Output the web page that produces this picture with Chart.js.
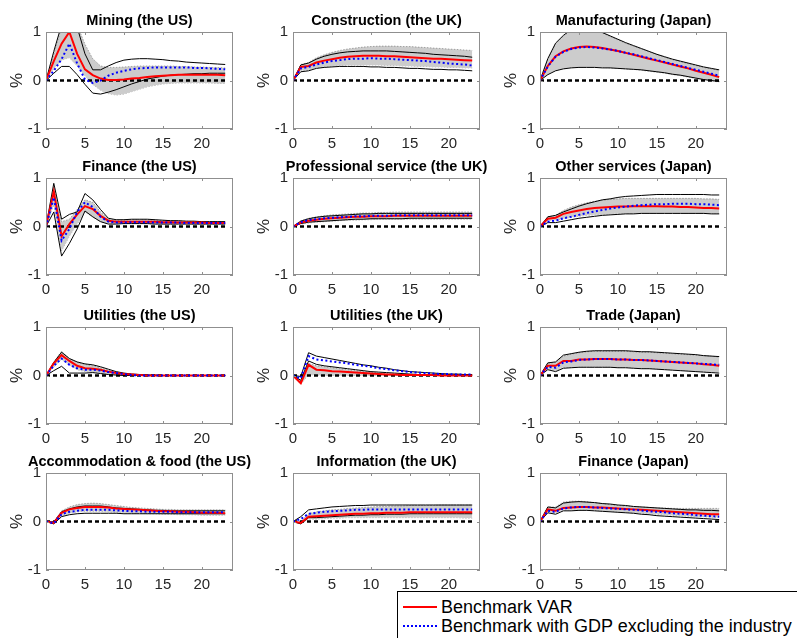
<!DOCTYPE html>
<html>
<head>
<meta charset="utf-8">
<script src="https://cdn.jsdelivr.net/npm/chart.js@4.4.1/dist/chart.umd.min.js"></script>
<style>
  html, body { margin: 0; padding: 0; background: #fff; }
  body { width: 797px; height: 638px; position: relative; overflow: hidden; font-family: "Liberation Sans", Arial, sans-serif; }
  canvas { position: absolute; }
  #legend { position: absolute; left: 397px; top: 591px; width: 420px; height: 47px; border: 1px solid #000; background: #fff; }
  #legend .ln { position: absolute; left: 5px; width: 34px; height: 0; }
  #legend .tx { position: absolute; left: 43px; font-size: 18px; line-height: 18px; color: #000; white-space: nowrap; }
</style>
</head>
<body>
<div id="legend">
  <div class="ln" style="top:14px;border-top:2px solid #ff0000"></div>
  <div class="tx" style="top:6px">Benchmark VAR</div>
  <div class="ln" style="top:33px;border-top:2px dotted #0000ff"></div>
  <div class="tx" style="top:25px">Benchmark with GDP excluding the industry</div>
</div>
<script>
// horizon (quarters) and axis ticks
const horizon = [0,1,2,3,4,5,6,7,8,9,10,11,12,13,14,15,16,17,18,19,20,21,22,23];
const xTicks = [0, 5, 10, 15, 20];
const yTicks = [-1, 0, 1];

const titles = [
  "Mining (the US)", "Construction (the UK)", "Manufacturing (Japan)",
  "Finance (the US)", "Professional service (the UK)", "Other services (Japan)",
  "Utilities (the US)", "Utilities (the UK)", "Trade (Japan)",
  "Accommodation & food (the US)", "Information (the UK)", "Finance (Japan)"
];

// Mining (the US)
const miningRed    = [0,0.4,0.76,1.0,0.55,0.23,0.11,0.04,0.01,0.01,0.02,0.04,0.05,0.07,0.09,0.1,0.11,0.12,0.12,0.12,0.12,0.12,0.12,0.11];
const miningBlue   = [0,0.2,0.44,0.76,0.35,0.02,-0.05,0.0,0.1,0.16,0.2,0.23,0.25,0.26,0.27,0.27,0.27,0.27,0.27,0.26,0.26,0.25,0.24,0.23];
const miningBandHi = [0,0.55,1.1,1.4,1.15,0.75,0.45,0.3,0.27,0.27,0.28,0.29,0.3,0.3,0.3,0.3,0.3,0.29,0.29,0.28,0.28,0.27,0.27,0.26];
const miningBandLo = [0,0.25,0.42,0.47,0.3,0.1,-0.08,-0.2,-0.27,-0.3,-0.28,-0.23,-0.18,-0.13,-0.1,-0.07,-0.06,-0.05,-0.05,-0.05,-0.05,-0.05,-0.06,-0.06];
const miningHi     = [0,0.6,1.15,1.5,1.1,0.55,0.22,0.22,0.3,0.37,0.42,0.44,0.45,0.45,0.44,0.43,0.41,0.4,0.38,0.37,0.36,0.35,0.34,0.33];
const miningLo     = [0,0.15,0.29,0.29,0.12,-0.08,-0.26,-0.28,-0.24,-0.19,-0.13,-0.07,-0.02,0.03,0.06,0.09,0.11,0.12,0.13,0.14,0.14,0.15,0.15,0.15];

// Construction (the UK)
const constrRed    = [0,0.28,0.3,0.37,0.41,0.44,0.47,0.49,0.5,0.51,0.51,0.51,0.5,0.5,0.49,0.48,0.47,0.46,0.45,0.45,0.44,0.43,0.42,0.41];
const constrBlue   = [0,0.25,0.28,0.33,0.37,0.4,0.42,0.44,0.45,0.45,0.46,0.45,0.45,0.44,0.43,0.42,0.41,0.4,0.38,0.37,0.35,0.34,0.33,0.31];
const constrBandHi = [0,0.33,0.37,0.47,0.53,0.58,0.62,0.65,0.67,0.69,0.7,0.71,0.71,0.71,0.7,0.7,0.69,0.68,0.67,0.66,0.65,0.64,0.63,0.62];
const constrBandLo = [0,0.2,0.22,0.27,0.29,0.3,0.31,0.32,0.32,0.32,0.32,0.32,0.31,0.31,0.3,0.3,0.29,0.29,0.28,0.28,0.27,0.27,0.26,0.26];
const constrHi     = [0,0.32,0.36,0.44,0.5,0.54,0.57,0.59,0.6,0.61,0.61,0.61,0.61,0.6,0.59,0.58,0.57,0.56,0.54,0.53,0.52,0.51,0.5,0.48];
const constrLo     = [0,0.18,0.2,0.25,0.27,0.28,0.29,0.29,0.29,0.29,0.28,0.28,0.27,0.27,0.26,0.25,0.25,0.24,0.23,0.23,0.22,0.22,0.21,0.2];

// Manufacturing (Japan)
const manufRed    = [0,0.3,0.5,0.6,0.66,0.69,0.7,0.69,0.67,0.64,0.61,0.57,0.53,0.49,0.45,0.41,0.37,0.33,0.29,0.25,0.2,0.16,0.12,0.07];
const manufBlue   = [0,0.29,0.49,0.59,0.65,0.68,0.69,0.68,0.66,0.64,0.61,0.57,0.54,0.5,0.46,0.42,0.38,0.34,0.3,0.26,0.22,0.18,0.14,0.1];
const manufBandHi = [0,0.44,0.75,0.92,1.03,1.08,1.08,1.04,0.98,0.91,0.84,0.77,0.71,0.65,0.59,0.53,0.48,0.43,0.39,0.35,0.31,0.27,0.24,0.21];
const manufBandLo = [0,0.13,0.21,0.25,0.27,0.28,0.28,0.28,0.27,0.26,0.25,0.24,0.23,0.21,0.19,0.17,0.15,0.12,0.1,0.07,0.04,0.02,-0.01,-0.03];
const manufHi     = [0,0.45,0.77,0.93,1.05,1.1,1.1,1.06,0.99,0.92,0.85,0.78,0.72,0.66,0.6,0.54,0.49,0.44,0.4,0.36,0.32,0.28,0.25,0.22];
const manufLo     = [0,0.12,0.2,0.24,0.26,0.27,0.27,0.27,0.26,0.26,0.25,0.24,0.23,0.22,0.2,0.18,0.16,0.13,0.11,0.08,0.05,0.02,0,-0.02];

// Finance (the US)
const finUSRed    = [0,0.72,-0.2,0.05,0.25,0.42,0.36,0.22,0.12,0.1,0.1,0.1,0.1,0.1,0.1,0.09,0.09,0.08,0.08,0.08,0.08,0.07,0.07,0.07];
const finUSBlue   = [0,0.6,-0.29,-0.05,0.3,0.5,0.4,0.2,0.1,0.08,0.08,0.09,0.09,0.09,0.08,0.08,0.08,0.08,0.07,0.07,0.07,0.07,0.07,0.07];
const finUSBandHi = [0,0.82,0.1,0.15,0.35,0.55,0.5,0.3,0.15,0.13,0.13,0.14,0.14,0.14,0.13,0.12,0.12,0.11,0.11,0.1,0.1,0.1,0.1,0.1];
const finUSBandLo = [0,0.45,-0.5,-0.2,0.05,0.3,0.2,0.1,0.06,0.06,0.06,0.06,0.06,0.06,0.05,0.05,0.05,0.05,0.05,0.05,0.05,0.05,0.05,0.05];
const finUSHi     = [0,0.89,0.15,0.25,0.3,0.68,0.55,0.35,0.17,0.14,0.14,0.15,0.15,0.15,0.14,0.13,0.12,0.12,0.11,0.11,0.1,0.1,0.1,0.1];
const finUSLo     = [0,0.3,-0.61,-0.35,-0.05,0.32,0.2,0.1,0.05,0.05,0.06,0.06,0.06,0.06,0.05,0.05,0.05,0.05,0.05,0.05,0.05,0.05,0.05,0.05];

// Professional service (the UK)
const profRed    = [0,0.08,0.12,0.14,0.16,0.17,0.18,0.19,0.2,0.2,0.21,0.21,0.21,0.22,0.22,0.22,0.22,0.22,0.22,0.22,0.22,0.22,0.22,0.22];
const profBlue   = [0,0.09,0.13,0.15,0.17,0.18,0.19,0.2,0.21,0.21,0.22,0.22,0.22,0.23,0.23,0.23,0.23,0.23,0.23,0.23,0.23,0.23,0.23,0.23];
const profBandHi = [0,0.12,0.17,0.2,0.22,0.24,0.25,0.26,0.27,0.28,0.28,0.29,0.29,0.3,0.3,0.3,0.3,0.3,0.3,0.3,0.3,0.3,0.3,0.3];
const profBandLo = [0,0.05,0.07,0.09,0.1,0.11,0.12,0.13,0.13,0.14,0.14,0.15,0.15,0.15,0.15,0.15,0.15,0.15,0.15,0.15,0.15,0.15,0.15,0.15];
const profHi     = [0,0.11,0.16,0.19,0.21,0.22,0.23,0.24,0.25,0.26,0.26,0.27,0.27,0.27,0.27,0.27,0.27,0.27,0.27,0.27,0.27,0.27,0.27,0.27];
const profLo     = [0,0.06,0.09,0.1,0.11,0.12,0.13,0.14,0.15,0.15,0.16,0.16,0.16,0.16,0.16,0.17,0.17,0.17,0.17,0.17,0.17,0.17,0.17,0.17];

// Other services (Japan)
const otherRed    = [0,0.16,0.18,0.26,0.3,0.33,0.36,0.38,0.39,0.4,0.41,0.41,0.42,0.42,0.42,0.42,0.41,0.41,0.4,0.4,0.39,0.38,0.38,0.37];
const otherBlue   = [0,0.1,0.12,0.17,0.2,0.24,0.28,0.31,0.34,0.37,0.39,0.41,0.43,0.44,0.45,0.46,0.46,0.47,0.47,0.47,0.46,0.46,0.45,0.44];
const otherBandHi = [0,0.2,0.23,0.33,0.4,0.45,0.49,0.52,0.54,0.56,0.57,0.58,0.58,0.58,0.58,0.58,0.58,0.58,0.58,0.58,0.58,0.57,0.57,0.56];
const otherBandLo = [0,0.13,0.13,0.16,0.19,0.21,0.23,0.24,0.25,0.26,0.27,0.27,0.27,0.28,0.28,0.28,0.28,0.28,0.28,0.28,0.27,0.27,0.27,0.27];
const otherHi     = [0,0.2,0.23,0.3,0.36,0.42,0.47,0.51,0.55,0.57,0.6,0.62,0.63,0.64,0.65,0.66,0.66,0.66,0.66,0.66,0.66,0.66,0.65,0.65];
const otherLo     = [0,0.08,0.08,0.11,0.14,0.17,0.19,0.21,0.23,0.24,0.25,0.26,0.26,0.27,0.27,0.27,0.27,0.27,0.27,0.27,0.27,0.27,0.26,0.26];

// Utilities (the US)
const utilUSRed    = [0,0.25,0.42,0.3,0.2,0.15,0.14,0.12,0.08,0.05,0.03,0.02,0.01,0,0,0,0,0,0,0,0,0,0,0];
const utilUSBlue   = [0,0.2,0.35,0.22,0.15,0.12,0.12,0.1,0.07,0.05,0.03,0.01,0,0,0,0,0,0,0,0,0,0,0,0];
const utilUSBandHi = [0,0.28,0.5,0.35,0.27,0.23,0.2,0.16,0.11,0.07,0.04,0.03,0.02,0.01,0.01,0,0,0,0,0,0,0,0,0];
const utilUSBandLo = [0,0.18,0.33,0.22,0.12,0.08,0.07,0.05,0.03,0.01,0,0,0,0,0,0,0,0,0,0,0,0,0,0];
const utilUSHi     = [0,0.27,0.48,0.35,0.28,0.24,0.22,0.18,0.13,0.08,0.05,0.03,0.02,0.01,0.01,0,0,0,0,0,0,0,0,0];
const utilUSLo     = [0,0.1,0.19,0.05,0.05,0.05,0.06,0.04,0.02,0.01,0,0,0,0,0,0,0,0,0,0,0,0,0,0];

// Utilities (the UK)
const utilUKRed    = [0,-0.16,0.22,0.12,0.11,0.09,0.08,0.07,0.06,0.05,0.04,0.03,0.02,0.02,0.01,0.01,0.01,0.01,0.01,0,0,0,0,0];
const utilUKBlue   = [0,-0.06,0.4,0.33,0.31,0.29,0.27,0.25,0.22,0.2,0.18,0.15,0.13,0.11,0.09,0.07,0.06,0.05,0.04,0.03,0.03,0.02,0.02,0.02];
const utilUKBandHi = [0,-0.12,0.25,0.2,0.18,0.16,0.14,0.12,0.1,0.08,0.07,0.05,0.04,0.03,0.03,0.02,0.02,0.01,0.01,0.01,0.01,0.01,0.01,0.01];
const utilUKBandLo = [0,-0.18,0.02,0.01,0,0,0,0,0,0,0,0,0,0,0,0,0,0,0,0,0,0,0,0];
const utilUKHi     = [0,-0.02,0.47,0.4,0.37,0.34,0.31,0.28,0.25,0.22,0.2,0.17,0.15,0.12,0.1,0.08,0.07,0.06,0.05,0.04,0.03,0.03,0.02,0.02];
const utilUKLo     = [0,-0.1,0.3,0.23,0.2,0.18,0.16,0.14,0.12,0.1,0.08,0.07,0.06,0.05,0.04,0.03,0.02,0.02,0.01,0.01,0.01,0.01,0.01,0];

// Trade (Japan)
const tradeRed    = [0,0.2,0.2,0.3,0.3,0.33,0.33,0.34,0.34,0.34,0.33,0.33,0.32,0.32,0.31,0.3,0.29,0.28,0.27,0.26,0.25,0.23,0.22,0.2];
const tradeBlue   = [0,0.18,0.16,0.27,0.29,0.32,0.33,0.34,0.34,0.34,0.33,0.33,0.32,0.32,0.31,0.3,0.29,0.28,0.27,0.26,0.25,0.24,0.23,0.22];
const tradeBandHi = [0,0.25,0.27,0.4,0.44,0.47,0.49,0.5,0.5,0.5,0.5,0.5,0.49,0.48,0.48,0.47,0.46,0.45,0.44,0.43,0.42,0.41,0.4,0.38];
const tradeBandLo = [0,0.14,0.1,0.17,0.17,0.18,0.18,0.18,0.18,0.18,0.17,0.17,0.16,0.15,0.15,0.14,0.13,0.12,0.11,0.1,0.09,0.08,0.07,0.07];
const tradeHi     = [0,0.26,0.28,0.42,0.45,0.48,0.5,0.51,0.51,0.51,0.51,0.51,0.5,0.49,0.49,0.48,0.47,0.46,0.45,0.44,0.43,0.41,0.4,0.39];
const tradeLo     = [0,0.12,0.08,0.15,0.16,0.17,0.17,0.17,0.17,0.17,0.16,0.16,0.15,0.14,0.14,0.13,0.12,0.11,0.1,0.09,0.08,0.07,0.06,0.05];

// Accommodation & food (the US)
const accomRed    = [0,-0.03,0.18,0.25,0.28,0.3,0.3,0.3,0.29,0.27,0.26,0.25,0.24,0.23,0.22,0.21,0.21,0.2,0.2,0.19,0.18,0.18,0.18,0.17];
const accomBlue   = [0,-0.04,0.15,0.2,0.22,0.24,0.24,0.24,0.24,0.23,0.22,0.21,0.21,0.2,0.2,0.2,0.2,0.19,0.19,0.19,0.19,0.19,0.19,0.19];
const accomBandHi = [0,0,0.22,0.3,0.35,0.37,0.38,0.37,0.35,0.33,0.31,0.29,0.28,0.27,0.26,0.25,0.25,0.24,0.24,0.24,0.24,0.24,0.24,0.24];
const accomBandLo = [0,-0.05,0.12,0.17,0.2,0.21,0.21,0.21,0.2,0.19,0.18,0.17,0.17,0.16,0.16,0.15,0.15,0.14,0.14,0.14,0.13,0.13,0.13,0.13];
const accomHi     = [0,-0.01,0.2,0.26,0.3,0.32,0.32,0.32,0.3,0.28,0.27,0.26,0.25,0.24,0.23,0.23,0.22,0.22,0.22,0.22,0.22,0.22,0.22,0.22];
const accomLo     = [0,-0.05,0.1,0.14,0.16,0.17,0.17,0.17,0.17,0.17,0.16,0.16,0.16,0.16,0.16,0.16,0.16,0.16,0.16,0.16,0.16,0.16,0.16,0.16];

// Information (the UK)
const infoRed    = [0,-0.03,0.1,0.11,0.12,0.13,0.14,0.15,0.16,0.16,0.17,0.17,0.18,0.18,0.18,0.19,0.19,0.19,0.19,0.19,0.19,0.19,0.19,0.19];
const infoBlue   = [0,0.05,0.16,0.18,0.2,0.21,0.22,0.23,0.24,0.24,0.25,0.25,0.25,0.25,0.25,0.25,0.25,0.25,0.25,0.25,0.25,0.25,0.25,0.25];
const infoBandHi = [0,0,0.16,0.2,0.22,0.24,0.25,0.27,0.28,0.29,0.3,0.31,0.31,0.32,0.32,0.33,0.33,0.33,0.33,0.34,0.34,0.34,0.34,0.34];
const infoBandLo = [0,-0.05,0.05,0.05,0.06,0.07,0.07,0.08,0.08,0.08,0.08,0.08,0.08,0.08,0.08,0.08,0.08,0.08,0.08,0.08,0.08,0.08,0.07,0.07];
const infoHi     = [0,0.1,0.24,0.26,0.28,0.3,0.31,0.32,0.33,0.33,0.34,0.34,0.34,0.34,0.34,0.34,0.34,0.34,0.34,0.34,0.34,0.34,0.34,0.34];
const infoLo     = [0,-0.05,0.08,0.08,0.09,0.1,0.11,0.12,0.13,0.13,0.14,0.14,0.15,0.15,0.15,0.16,0.16,0.16,0.16,0.16,0.16,0.16,0.16,0.16];

// Finance (Japan)
const finJPRed    = [0,0.25,0.22,0.28,0.29,0.3,0.3,0.29,0.29,0.28,0.27,0.26,0.25,0.24,0.23,0.22,0.21,0.2,0.19,0.18,0.17,0.16,0.15,0.15];
const finJPBlue   = [0,0.22,0.2,0.27,0.29,0.3,0.3,0.29,0.28,0.27,0.26,0.25,0.24,0.23,0.21,0.2,0.19,0.17,0.16,0.15,0.13,0.12,0.11,0.1];
const finJPBandHi = [0,0.3,0.3,0.4,0.42,0.42,0.41,0.39,0.37,0.35,0.33,0.32,0.31,0.3,0.29,0.28,0.28,0.27,0.27,0.27,0.27,0.27,0.27,0.27];
const finJPBandLo = [0,0.2,0.18,0.24,0.24,0.24,0.24,0.23,0.22,0.21,0.2,0.19,0.18,0.17,0.16,0.15,0.14,0.13,0.12,0.11,0.1,0.1,0.09,0.08];
const finJPHi     = [0,0.3,0.28,0.38,0.4,0.41,0.4,0.39,0.37,0.36,0.34,0.33,0.31,0.3,0.29,0.28,0.27,0.26,0.25,0.24,0.24,0.23,0.23,0.22];
const finJPLo     = [0,0.18,0.15,0.22,0.22,0.23,0.23,0.22,0.21,0.2,0.19,0.18,0.17,0.15,0.14,0.12,0.11,0.1,0.09,0.08,0.07,0.06,0.05,0.04];

const panels = [
  [miningRed, miningBlue, miningBandHi, miningBandLo, miningHi, miningLo],
  [constrRed, constrBlue, constrBandHi, constrBandLo, constrHi, constrLo],
  [manufRed, manufBlue, manufBandHi, manufBandLo, manufHi, manufLo],
  [finUSRed, finUSBlue, finUSBandHi, finUSBandLo, finUSHi, finUSLo],
  [profRed, profBlue, profBandHi, profBandLo, profHi, profLo],
  [otherRed, otherBlue, otherBandHi, otherBandLo, otherHi, otherLo],
  [utilUSRed, utilUSBlue, utilUSBandHi, utilUSBandLo, utilUSHi, utilUSLo],
  [utilUKRed, utilUKBlue, utilUKBandHi, utilUKBandLo, utilUKHi, utilUKLo],
  [tradeRed, tradeBlue, tradeBandHi, tradeBandLo, tradeHi, tradeLo],
  [accomRed, accomBlue, accomBandHi, accomBandLo, accomHi, accomLo],
  [infoRed, infoBlue, infoBandHi, infoBandLo, infoHi, infoLo],
  [finJPRed, finJPBlue, finJPBandHi, finJPBandLo, finJPHi, finJPLo]
];

// grid geometry of the plot boxes
const colLeft = [46, 293, 540];
const rowTop = [32, 178, 327, 473];
const boxW = 187, boxH = 97;
const padL = 46, padT = 28, padR = 30, padB = 24;

Chart.defaults.font.family = '"Liberation Sans", Arial, sans-serif';
Chart.defaults.color = "#262626";

const pts = arr => arr.map((v, i) => ({ x: horizon[i], y: v }));

// MATLAB-like box, inward ticks and panel title
const framePlugin = {
  id: "frame",
  afterDraw(chart) {
    const { ctx, chartArea: a, scales: { x, y } } = chart;
    ctx.save();
    ctx.strokeStyle = "#8f8f8f";
    ctx.lineWidth = 1;
    ctx.strokeRect(a.left + 0.5, a.top + 0.5, a.width - 1, a.height - 1);
    ctx.beginPath();
    xTicks.forEach(v => {
      const px = Math.round(x.getPixelForValue(v)) + 0.5;
      ctx.moveTo(px, a.bottom); ctx.lineTo(px, a.bottom - 3);
      ctx.moveTo(px, a.top); ctx.lineTo(px, a.top + 3);
    });
    yTicks.forEach(v => {
      const py = Math.round(y.getPixelForValue(v)) + 0.5;
      ctx.moveTo(a.left, py); ctx.lineTo(a.left + 3, py);
      ctx.moveTo(a.right, py); ctx.lineTo(a.right - 3, py);
    });
    ctx.stroke();
    ctx.fillStyle = "#000";
    ctx.font = 'bold 14.5px "Liberation Sans", Arial, sans-serif';
    ctx.textAlign = "center";
    ctx.textBaseline = "middle";
    ctx.fillText(chart.options.plugins.frame.title, (a.left + a.right) / 2, a.top - 11);
    ctx.restore();
  }
};

panels.forEach((p, i) => {
  const [red, blue, bandHi, bandLo, hi, lo] = p;
  const c = document.createElement("canvas");
  const W = padL + boxW + padR, H = padT + boxH + padB;
  c.width = W; c.height = H;
  c.style.left = (colLeft[i % 3] - padL) + "px";
  c.style.top = (rowTop[Math.floor(i / 3)] - padT) + "px";
  c.style.width = W + "px"; c.style.height = H + "px";
  document.body.appendChild(c);

  const edge = { borderColor: "rgba(0,0,0,0.5)", borderWidth: 0.6, borderDash: [1.5, 1.5] };
  new Chart(c, {
    type: "line",
    data: {
      datasets: [
        { data: pts(bandHi), fill: "+1", backgroundColor: "#cccccc", ...edge, order: 6 },
        { data: pts(bandLo), fill: false, ...edge, order: 6 },
        { data: pts(hi), borderColor: "#000", borderWidth: 1, order: 4 },
        { data: pts(lo), borderColor: "#000", borderWidth: 1, order: 4 },
        { data: [{ x: 0, y: 0 }, { x: 23, y: 0 }], borderColor: "#000", borderWidth: 2.5, borderDash: [4, 3], order: 3 },
        { data: pts(red), borderColor: "#ff0000", borderWidth: 2, order: 1 },
        { data: pts(blue), borderColor: "#0000ff", borderWidth: 2, borderDash: [2, 2.5], order: 0 }
      ]
    },
    options: {
      responsive: false,
      animation: false,
      devicePixelRatio: 1,
      elements: { point: { radius: 0 }, line: { tension: 0, fill: false } },
      layout: { padding: { top: padT, right: padR, left: 0, bottom: 0 } },
      plugins: { legend: { display: false }, tooltip: { enabled: false }, frame: { title: titles[i] } },
      scales: {
        x: {
          type: "linear", min: 0, max: 24,
          afterBuildTicks: s => { s.ticks = xTicks.map(v => ({ value: v })); },
          afterFit: s => { s.height = padB; },
          grid: { display: false, drawTicks: false },
          border: { display: false },
          ticks: { padding: 6, maxRotation: 0, autoSkip: false, font: { size: 15 } }
        },
        y: {
          min: -1, max: 1,
          afterBuildTicks: s => { s.ticks = yTicks.map(v => ({ value: v })); },
          afterFit: s => { s.width = padL; },
          grid: { display: false, drawTicks: false },
          border: { display: false },
          ticks: { padding: 5, font: { size: 15 } },
          title: { display: true, text: "%", font: { size: 17 }, padding: { top: 7, bottom: 0 } }
        }
      }
    },
    plugins: [framePlugin]
  });
});
</script>
</body>
</html>
